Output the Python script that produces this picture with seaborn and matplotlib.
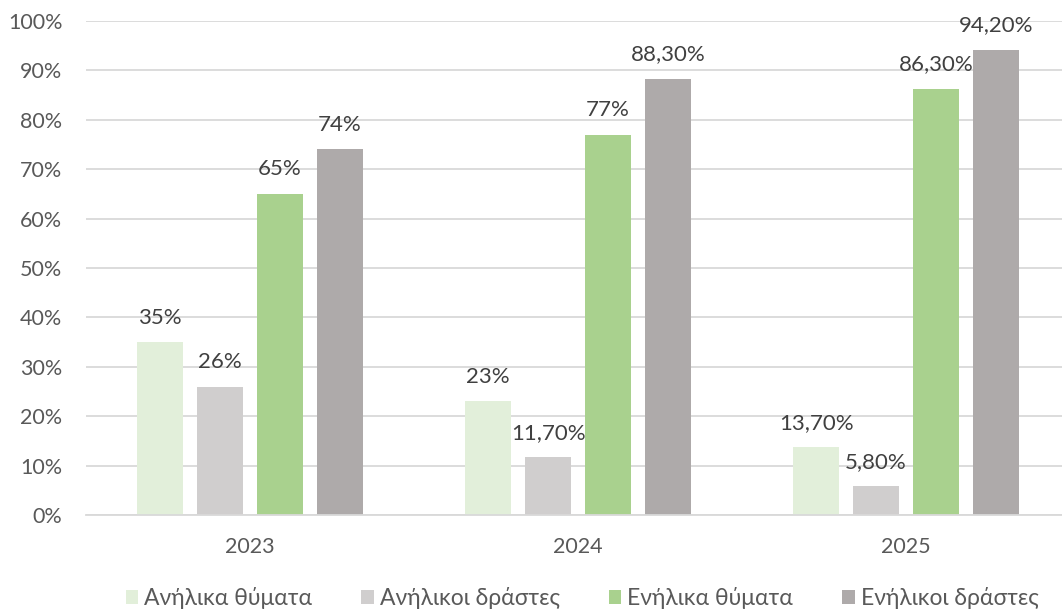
import matplotlib
matplotlib.use('Agg')
import matplotlib.pyplot as plt
import seaborn as sns
import pandas as pd

years = ['2023', '2024', '2025']
groups = ['Ανήλικα θύματα', 'Ανήλικοι δράστες', 'Ενήλικα θύματα', 'Ενήλικοι δράστες']
anilika_thymata = [35, 23, 13.7]
anilikoi_drastes = [26, 11.7, 5.8]
enilika_thymata = [65, 77, 86.3]
enilikoi_drastes = [74, 88.3, 94.2]
colors = ['#E2EFDA', '#D0CECE', '#A9D18E', '#AEAAAA']

series = [anilika_thymata, anilikoi_drastes, enilika_thymata, enilikoi_drastes]
rows = []
for g, vals in zip(groups, series):
    for y, v in zip(years, vals):
        rows.append({'year': y, 'group': g, 'value': v / 100})
df = pd.DataFrame(rows)


def fmt(v):
    if float(v).is_integer():
        return f'{int(v)}%'
    return f'{v:.2f}%'.replace('.', ',')


sns.set_theme(style='white')
plt.rcParams['font.family'] = ['Lato', 'Noto Sans', 'DejaVu Sans']

fig = plt.figure(figsize=(10.62, 6.09), dpi=100)
ax = fig.add_axes([86 / 1062, 94 / 609, 984 / 1062, 494 / 609])

sns.barplot(data=df, x='year', y='value', hue='group', palette=colors,
            width=0.73, gap=0.23, saturation=1, linewidth=0, ax=ax, legend=True)

for cont, vals in zip(ax.containers, series):
    ax.bar_label(cont, labels=[fmt(v) for v in vals], padding=10.5,
                 fontsize=16, color='#404040')

ax.set_ylim(0, 1)
ax.set_xlim(-0.5, 2.5)
ax.set_yticks([i / 10 for i in range(11)])
ax.set_yticklabels([f'{i * 10}%' for i in range(11)])
ax.yaxis.grid(True, color='#D9D9D9', linewidth=1.3)
ax.set_axisbelow(True)
for s in ['top', 'right', 'left']:
    ax.spines[s].set_visible(False)
ax.spines['bottom'].set_color('#D9D9D9')
ax.spines['bottom'].set_linewidth(1.3)
ax.tick_params(axis='both', length=0, labelsize=15.5, labelcolor='#595959')
ax.tick_params(axis='y', pad=17)
ax.tick_params(axis='x', pad=16)
ax.set_xlabel('')
ax.set_ylabel('')

handles, labels = ax.get_legend_handles_labels()
ax.get_legend().remove()
fig.legend(handles, labels, loc='center', bbox_to_anchor=(0.548, 1 - 598 / 609),
           ncol=4, frameon=False, fontsize=16.5, labelcolor='#595959',
           handlelength=0.55, handleheight=0.55, handletextpad=0.25,
           columnspacing=2.15)

fig.savefig('out.png', dpi=100)
